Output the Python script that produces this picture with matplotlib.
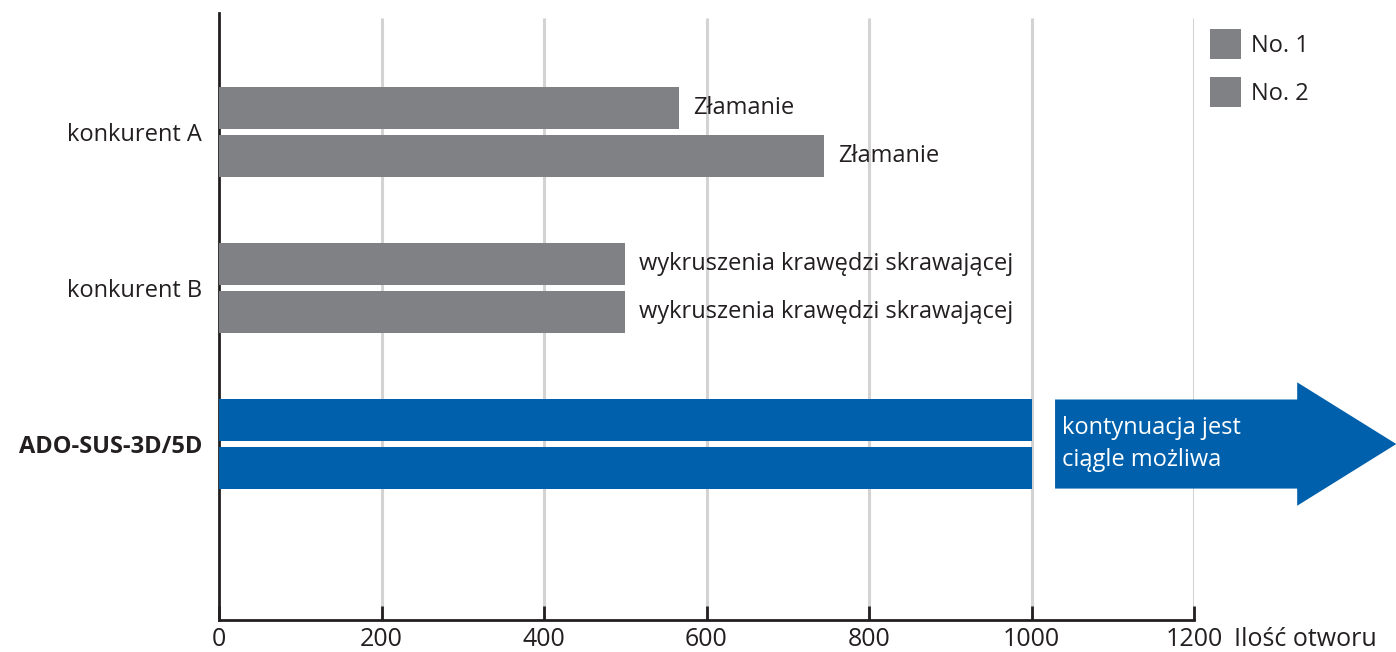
import numpy as np
import matplotlib.pyplot as plt
from matplotlib.patches import Patch, Polygon

# data
categories = ["konkurent A", "konkurent B", "ADO-SUS-3D/5D"]
no1 = [566, 500, 1000]
no2 = [745, 500, 1000]
notes1 = ["Złamanie", "wykruszenia krawędzi skrawającej", None]
notes2 = ["Złamanie", "wykruszenia krawędzi skrawającej", None]
series_names = ["No. 1", "No. 2"]
xticks = [0, 200, 400, 600, 800, 1000, 1200]
x_label = "Ilość otworu"
arrow_text = "kontynuacja jest\nciągle możliwa"

GRAY = "#808184"
BLUE = "#0060ac"
TEXT = "#231f20"
FONT = ["Open Sans", "DejaVu Sans"]
FS = 17

plt.rcParams['font.family'] = FONT

fig = plt.figure(figsize=(13.96, 6.52), dpi=100)
ax = fig.add_axes([219 / 1396, 1 - 620 / 652, (1194 - 219) / 1396, (620 - 13) / 652])

y = np.arange(len(categories))
h = 0.269
off = 0.151
colors = [GRAY, GRAY, BLUE]

ax.barh(y - off, no1, height=h, color=colors, zorder=3)
ax.barh(y + off, no2, height=h, color=colors, zorder=3)

for i in range(len(categories)):
    if notes1[i]:
        ax.text(no1[i] + 17, y[i] - off, notes1[i], va="center", ha="left",
                fontsize=FS, color=TEXT)
    if notes2[i]:
        ax.text(no2[i] + 17, y[i] + off, notes2[i], va="center", ha="left",
                fontsize=FS, color=TEXT)

# continuation arrow after the ADO bars
i = 2
x0 = no1[i] + 29
xh = 1327
xt = 1449
top = y[i] - off - h / 2
bot = y[i] + off + h / 2
htop = top - 0.11
hbot = bot + 0.11
arrow = Polygon([(x0, top), (xh, top), (xh, htop), (xt, y[i]), (xh, hbot),
                 (xh, bot), (x0, bot)], closed=True, facecolor=BLUE,
                edgecolor="none", clip_on=False, zorder=3)
ax.add_patch(arrow)
ax.text(x0 + 9, y[i], arrow_text, va="center", ha="left", fontsize=FS,
        color="white", linespacing=1.48, zorder=4)

ymin, ymax = 3.128, -0.763
ax.set_xlim(0, 1200)
ax.set_ylim(ymin, ymax)

# light vertical grid lines
ax.vlines(xticks[1:], ymin, -0.731, color="#d3d3d3", linewidth=2.2, zorder=0)

ax.set_xticks(xticks)
ax.set_xticklabels([str(t) for t in xticks], fontsize=18, color=TEXT)
ax.set_yticks(y)
ax.set_yticklabels(categories, fontsize=FS, color=TEXT)
ax.get_yticklabels()[2].set_fontweight("bold")
ax.tick_params(axis="y", length=0, pad=12)
ax.tick_params(axis="x", direction="in", length=10, width=2, color=TEXT, pad=5)

for s in ["top", "right"]:
    ax.spines[s].set_visible(False)
for s in ["left", "bottom"]:
    ax.spines[s].set_linewidth(2)
    ax.spines[s].set_color(TEXT)

ax.annotate(x_label, xy=(1249, 0), xycoords=ax.get_xaxis_transform(),
            xytext=(0, -5), textcoords="offset points", va="top", ha="left",
            fontsize=18, color=TEXT, annotation_clip=False)

handles = [Patch(facecolor=GRAY, edgecolor="none") for _ in series_names]
leg = fig.legend(handles, series_names, loc="upper left",
                 bbox_to_anchor=(1210 / 1396, 1 - 29 / 652), frameon=False,
                 fontsize=FS, handlelength=1.3, handleheight=1.6,
                 handletextpad=0.42, labelspacing=0.75, labelcolor=TEXT,
                 borderpad=0, borderaxespad=0)

fig.savefig("out.png", dpi=100)
